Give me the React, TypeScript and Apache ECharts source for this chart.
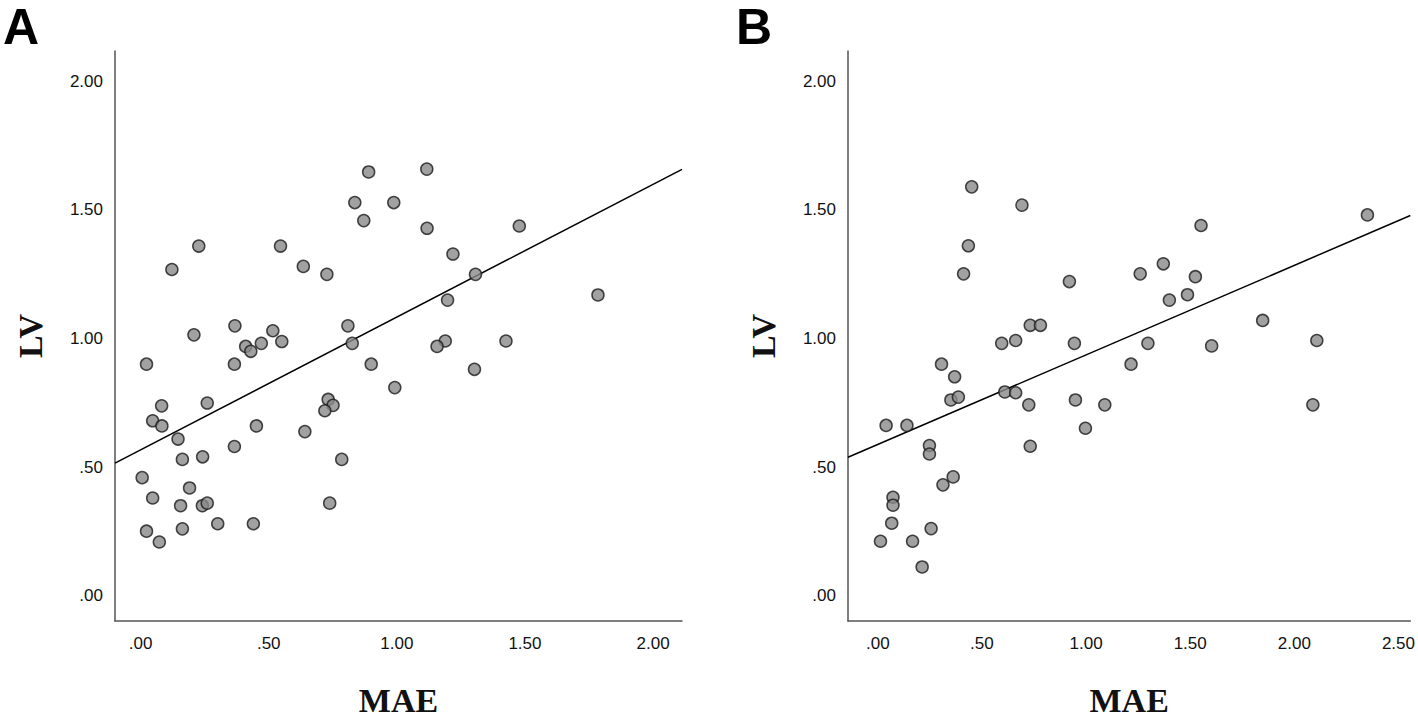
import React, { useEffect, useRef } from "react";
import * as echarts from "echarts";

// Panel A: MAE (x) vs LV (y)
const panelA_MAE = [
  0.89, 0.836, 0.988, 0.871, 0.227, 0.122, 0.546, 0.635, 0.727, 0.368, 0.208, 0.516, 0.809, 0.551, 0.41,
  0.43, 0.471, 0.826, 0.023, 0.366, 0.9, 0.992, 0.082, 0.26, 0.047, 0.083, 0.732, 0.751, 0.719, 0.452,
  0.641, 0.146, 0.366, 0.163, 0.242, 0.785, 0.006, 0.191, 0.047, 0.156, 0.241, 0.26, 0.738, 0.023, 0.163,
  0.301, 0.44, 0.073, 1.117, 1.118, 1.478, 1.219, 1.307, 1.198, 1.785, 1.189, 1.157, 1.426, 1.303,
];
const panelA_LV = [
  1.647, 1.528, 1.528, 1.458, 1.359, 1.268, 1.359, 1.28, 1.249, 1.049, 1.014, 1.03, 1.049, 0.988, 0.969,
  0.95, 0.981, 0.981, 0.9, 0.9, 0.9, 0.809, 0.738, 0.749, 0.68, 0.66, 0.763, 0.74, 0.719, 0.66,
  0.638, 0.609, 0.58, 0.53, 0.54, 0.53, 0.459, 0.419, 0.38, 0.35, 0.35, 0.36, 0.36, 0.251, 0.26,
  0.28, 0.28, 0.209, 1.658, 1.428, 1.437, 1.328, 1.249, 1.149, 1.169, 0.99, 0.969, 0.99, 0.88,
];

// Panel B: MAE (x) vs LV (y)
const panelB_MAE = [
  0.451, 0.692, 0.435, 0.412, 0.92, 1.26, 0.732, 0.781, 0.595, 0.662, 0.944, 0.306, 0.369, 1.216, 0.351,
  0.387, 0.61, 0.662, 0.725, 0.949, 1.09, 0.997, 0.04, 0.14, 0.732, 0.248, 0.248, 0.362, 0.313, 0.073,
  0.073, 0.067, 0.256, 0.013, 0.167, 0.213, 1.552, 2.351, 1.371, 1.525, 1.487, 1.4, 1.848, 1.297, 1.603,
  2.108, 2.089,
];
const panelB_LV = [
  1.589, 1.518, 1.36, 1.251, 1.221, 1.251, 1.051, 1.051, 0.981, 0.992, 0.981, 0.9, 0.851, 0.9, 0.761,
  0.772, 0.792, 0.789, 0.742, 0.761, 0.742, 0.651, 0.662, 0.662, 0.581, 0.584, 0.551, 0.462, 0.431, 0.383,
  0.352, 0.282, 0.261, 0.212, 0.212, 0.112, 1.439, 1.48, 1.29, 1.24, 1.17, 1.149, 1.07, 0.981, 0.971,
  0.992, 0.742,
];

// Fit lines (intercept, slope)
const fitA = [0.567, 0.516];
const fitB = [0.588, 0.348];

// Tick labels
const ticksA_x = [0, 0.5, 1, 1.5, 2];
const ticksB_x = [0, 0.5, 1, 1.5, 2, 2.5];
const ticks_y = [0, 0.5, 1, 1.5, 2];

// Axis extents
const rangeA_x = [-0.1, 2.113];
const rangeB_x = [-0.143, 2.557];
const range_y = [-0.098, 2.117];

const fmt = (v: number) => {
  const s = Number(v).toFixed(2);
  return s.startsWith("0") ? s.slice(1) : s;
};

const SANS = "'Liberation Sans', Arial, sans-serif";
const SERIF = "'Liberation Serif', 'Times New Roman', serif";

function xAxis(gridIndex: number, range: number[], ticks: number[]) {
  return {
    type: "value",
    gridIndex,
    min: range[0],
    max: range[1],
    name: "MAE",
    nameLocation: "middle",
    nameGap: 62,
    nameTextStyle: { fontFamily: SERIF, fontWeight: "bold", fontSize: 34, color: "#111" },
    axisLine: { show: true, onZero: false, lineStyle: { color: "#555", width: 1.5 } },
    axisTick: { show: false },
    splitLine: { show: false },
    axisLabel: {
      customValues: ticks,
      formatter: fmt,
      margin: 14,
      fontFamily: SANS,
      fontSize: 17,
      color: "#111",
    },
  };
}

function yAxis(gridIndex: number) {
  return {
    type: "value",
    gridIndex,
    min: range_y[0],
    max: range_y[1],
    name: "LV",
    nameLocation: "middle",
    nameRotate: 90,
    nameGap: 68,
    nameTextStyle: { fontFamily: SERIF, fontWeight: "bold", fontSize: 34, color: "#111" },
    axisLine: { show: true, onZero: false, lineStyle: { color: "#555", width: 1.5 } },
    axisTick: { show: false },
    splitLine: { show: false },
    axisLabel: {
      customValues: ticks_y,
      formatter: fmt,
      margin: 12,
      fontFamily: SANS,
      fontSize: 17,
      color: "#111",
    },
  };
}

function pts(xs: number[], ys: number[]) {
  return xs.map((x, i) => [x, ys[i]]);
}

function fitLine(fit: number[], range: number[]) {
  return range.map((x) => [x, fit[0] + fit[1] * x]);
}

const scatterStyle = {
  symbol: "circle",
  symbolSize: 12,
  itemStyle: { color: "#8a8a8a", borderColor: "#1a1a1a", borderWidth: 1.5 },
};

export default function App() {
  const ref = useRef<HTMLDivElement>(null);
  useEffect(() => {
    if (!ref.current) return;
    const chart = echarts.init(ref.current, null, { renderer: "svg" });
    chart.setOption({
      animation: false,
      backgroundColor: "#fff",
      grid: [
        { left: 115, top: 51, width: 567, height: 576 },
        { left: 848, top: 51, width: 567, height: 576 },
      ],
      xAxis: [xAxis(0, rangeA_x, ticksA_x), xAxis(1, rangeB_x, ticksB_x)],
      yAxis: [yAxis(0), yAxis(1)],
      graphic: [
        {
          type: "text",
          left: 3,
          top: 2,
          style: { text: "A", fontFamily: SANS, fontWeight: "bold", fontSize: 50, fill: "#000" },
        },
        {
          type: "text",
          left: 736,
          top: 2,
          style: { text: "B", fontFamily: SANS, fontWeight: "bold", fontSize: 50, fill: "#000" },
        },
      ],
      series: [
        {
          type: "line",
          xAxisIndex: 0,
          yAxisIndex: 0,
          data: fitLine(fitA, rangeA_x),
          symbol: "none",
          lineStyle: { color: "#000", width: 1.5 },
          z: 1,
          silent: true,
        },
        {
          type: "scatter",
          xAxisIndex: 0,
          yAxisIndex: 0,
          data: pts(panelA_MAE, panelA_LV),
          ...scatterStyle,
          z: 2,
        },
        {
          type: "line",
          xAxisIndex: 1,
          yAxisIndex: 1,
          data: fitLine(fitB, rangeB_x),
          symbol: "none",
          lineStyle: { color: "#000", width: 1.5 },
          z: 1,
          silent: true,
        },
        {
          type: "scatter",
          xAxisIndex: 1,
          yAxisIndex: 1,
          data: pts(panelB_MAE, panelB_LV),
          ...scatterStyle,
          z: 2,
        },
      ],
    });
    return () => chart.dispose();
  }, []);
  return (
    <div
      ref={ref}
      style={{ position: "absolute", left: 0, top: 0, width: 1418, height: 722, background: "#fff" }}
    />
  );
}
